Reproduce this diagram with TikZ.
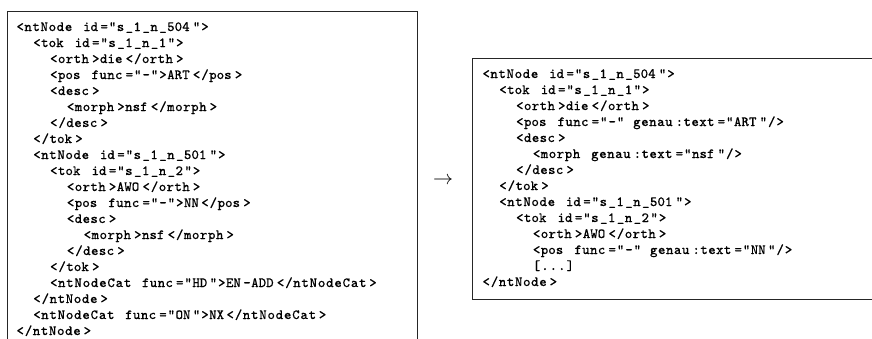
\documentclass[tikz,border=0pt]{standalone}
\usepackage{fontspec}
\newfontfamily\codefont{lmmono8-regular.otf}[FakeBold=0.35]
\ExplSyntaxOn
\tl_new:N \l_cl_run_tl
\int_new:N \l_cl_run_int
\dim_new:N \l_cl_gap_dim
\cs_new_protected:Npn \cl_gap: { \hskip \l_cl_gap_dim }
\cs_new_protected:Npn \cl_flush:
  {
    \int_compare:nNnT { \l_cl_run_int } > { 0 }
      {
        \int_compare:nNnTF { \l_cl_run_int } > { 1 }
          {
            \dim_set:Nn \l_cl_gap_dim
              { \fp_eval:n { ( \l_cl_run_int * 0.525 - min ( \l_cl_run_int * 0.525 , 1.5 ) ) / ( \l_cl_run_int - 1 ) } pt }
          }
          { \dim_zero:N \l_cl_gap_dim }
        \makebox[ \dim_eval:n { 4.2pt * \l_cl_run_int } ][l]{ \l_cl_run_tl }
      }
    \tl_clear:N \l_cl_run_tl
    \int_zero:N \l_cl_run_int
  }
\NewDocumentCommand\fixline{m}
  {
    \tl_clear:N \l_cl_run_tl
    \int_zero:N \l_cl_run_int
    \str_map_inline:nn {#1}
      {
        \str_if_in:nnTF { abcdefghijklmnopqrstuvwxyzABCDEFGHIJKLMNOPQRSTUVWXYZ0123456789 } { ##1 }
          {
            \int_compare:nNnT { \l_cl_run_int } > { 0 } { \tl_put_right:Nn \l_cl_run_tl { \cl_gap: } }
            \tl_put_right:Nn \l_cl_run_tl { ##1 }
            \int_incr:N \l_cl_run_int
          }
          { \cl_flush: \makebox[4.2pt]{##1} }
      }
    \cl_flush:
  }
\ExplSyntaxOff
\tikzset{
  code/.style={anchor=base west, inner sep=0pt, outer sep=0pt,
    font=\codefont\fontsize{7}{8}\selectfont},
  frame/.style={draw=black!85, line width=0.45pt}
}
\newcommand\codeline[5]{\node[code] (#1) at ({#2+8.4*#4},#3) {\fixline{#5}};}
\begin{document}
\begin{tikzpicture}[x=0.5pt,y=-0.5pt]
\useasboundingbox (0,0) rectangle (872,338);
\begin{scope}
\clip (0,0) rectangle (872,338);
% left frame (bottom cut off)
\draw[frame] (7,350) -- (7,11) -- (417,11) -- (417,350);
% right frame (right side cut off)
\draw[frame] (880,58) -- (472,58) -- (472,299) -- (880,299);
\end{scope}
% left listing
\codeline{l0}{16}{31}{0}{<ntNode id="s_1_n_504">}
\codeline{l1}{16}{47}{2}{<tok id="s_1_n_1">}
\codeline{l2}{16}{63}{4}{<orth>die</orth>}
\codeline{l3}{16}{79}{4}{<pos func="-">ART</pos>}
\codeline{l4}{16}{95}{4}{<desc>}
\codeline{l5}{16}{111}{6}{<morph>nsf</morph>}
\codeline{l6}{16}{127}{4}{</desc>}
\codeline{l7}{16}{143}{2}{</tok>}
\codeline{l8}{16}{159}{2}{<ntNode id="s_1_n_501">}
\codeline{l9}{16}{175}{4}{<tok id="s_1_n_2">}
\codeline{l10}{16}{191}{6}{<orth>AWO</orth>}
\codeline{l11}{16}{207}{6}{<pos func="-">NN</pos>}
\codeline{l12}{16}{223}{6}{<desc>}
\codeline{l13}{16}{239}{8}{<morph>nsf</morph>}
\codeline{l14}{16}{255}{6}{</desc>}
\codeline{l15}{16}{271}{4}{</tok>}
\codeline{l16}{16}{287}{4}{<ntNodeCat func="HD">EN-ADD</ntNodeCat>}
\codeline{l17}{16}{303}{2}{</ntNode>}
\codeline{l18}{16}{319}{2}{<ntNodeCat func="ON">NX</ntNodeCat>}
\codeline{l19}{16}{335}{0}{</ntNode>}
% arrow
\node[inner sep=0pt] (arr) at (443,181) {$\rightarrow$};
% right listing
\codeline{r0}{482}{78}{0}{<ntNode id="s_1_n_504">}
\codeline{r1}{482}{94}{2}{<tok id="s_1_n_1">}
\codeline{r2}{482}{110}{4}{<orth>die</orth>}
\codeline{r3}{482}{126}{4}{<pos func="-" genau:text="ART"/>}
\codeline{r4}{482}{142}{4}{<desc>}
\codeline{r5}{482}{158}{6}{<morph genau:text="nsf"/>}
\codeline{r6}{482}{174}{4}{</desc>}
\codeline{r7}{482}{190}{2}{</tok>}
\codeline{r8}{482}{206}{2}{<ntNode id="s_1_n_501">}
\codeline{r9}{482}{222}{4}{<tok id="s_1_n_2">}
\codeline{r10}{482}{238}{6}{<orth>AWO</orth>}
\codeline{r11}{482}{254}{6}{<pos func="-" genau:text="NN"/>}
\codeline{r12}{482}{270}{6}{[...]}
\codeline{r13}{482}{286}{0}{</ntNode>}
\end{tikzpicture}
\end{document}
